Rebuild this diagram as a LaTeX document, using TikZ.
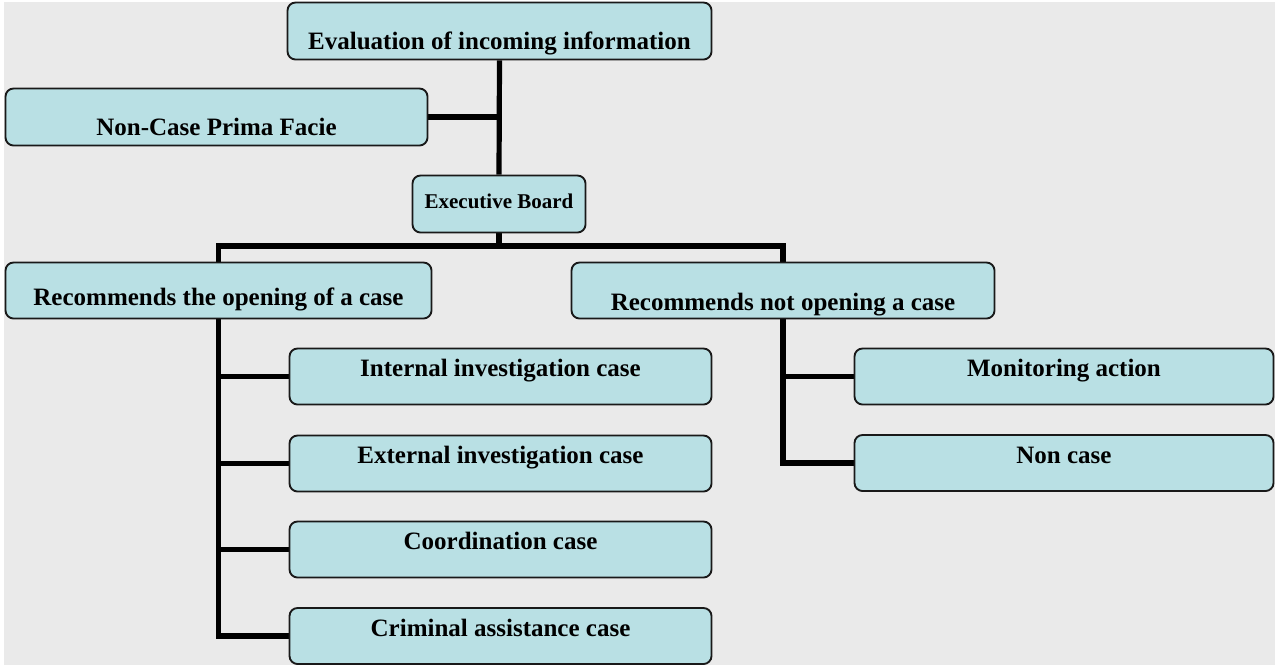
\documentclass[tikz,border=0pt]{standalone}
\usepackage{fontspec}
\setmainfont{Liberation Serif}
\usetikzlibrary{backgrounds}
\definecolor{boxfill}{RGB}{185,224,228}
\definecolor{bggray}{RGB}{234,234,234}
\tikzset{
  bx/.style={draw=black!90, line width=1.4pt, fill=boxfill, rounded corners=6pt,
    inner sep=0pt, text depth=0pt, font=\bfseries\fontsize{18.75pt}{20pt}\selectfont},
  link/.style={draw=black, line width=3.9pt, line join=miter}
}
\begin{document}
\begin{tikzpicture}[x=0.75pt,y=-0.75pt]
\useasboundingbox (0,0) rectangle (1275,665);
% boxes
\node[bx, minimum width=424*0.75pt, minimum height=57*0.75pt, text height=27pt] (top) at (499.5,31) {Evaluation of incoming information};
\node[bx, minimum width=422*0.75pt, minimum height=57*0.75pt, text height=27pt] (noncase) at (216.5,117) {Non-Case Prima Facie};
\node[bx, minimum width=173*0.75pt, minimum height=57*0.75pt, text height=6pt, font=\bfseries\fontsize{15.75pt}{17pt}\selectfont] (exec) at (499,204) {Executive Board};
\node[bx, minimum width=426*0.75pt, minimum height=56*0.75pt, text height=21.75pt] (ropen) at (218.5,290.5) {Recommends the opening of a case};
\node[bx, minimum width=423*0.75pt, minimum height=56*0.75pt, text height=29.25pt] (rnot) at (783,290.5) {Recommends not opening a case};
\node[bx, minimum width=422*0.75pt, minimum height=56*0.75pt, text height=0pt] (int) at (500.5,376.5) {Internal investigation case};
\node[bx, minimum width=422*0.75pt, minimum height=56*0.75pt, text height=0pt] (ext) at (500.5,463.5) {External investigation case};
\node[bx, minimum width=422*0.75pt, minimum height=56*0.75pt, text height=0pt] (coord) at (500.5,549.5) {Coordination case};
\node[bx, minimum width=422*0.75pt, minimum height=56*0.75pt, text height=0pt] (crim) at (500.5,636) {Criminal assistance case};
\node[bx, minimum width=419*0.75pt, minimum height=56*0.75pt, text height=0pt] (mon) at (1064,376.5) {Monitoring action};
\node[bx, minimum width=419*0.75pt, minimum height=56*0.75pt, text height=0pt] (nonc) at (1064,463) {Non case};
\coordinate (bus) at (499,246);
\begin{scope}[on background layer]
\fill[bggray] (4,2) rectangle (1275,665);
\draw[link] (top.south) -- (exec.north);
\draw[link] (noncase.east) -- (noncase.east -| top.south);
\draw[link] (exec.south) -- (bus);
\draw[link] (ropen.north) |- (bus) -| (rnot.north);
\draw[link] (ropen.south) |- (crim.west);
\draw[link] (int.west) -- (int.west -| ropen.south);
\draw[link] (ext.west) -- (ext.west -| ropen.south);
\draw[link] (coord.west) -- (coord.west -| ropen.south);
\draw[link] (rnot.south) |- (nonc.west);
\draw[link] (mon.west) -- (mon.west -| rnot.south);
\end{scope}
\end{tikzpicture}
\end{document}
